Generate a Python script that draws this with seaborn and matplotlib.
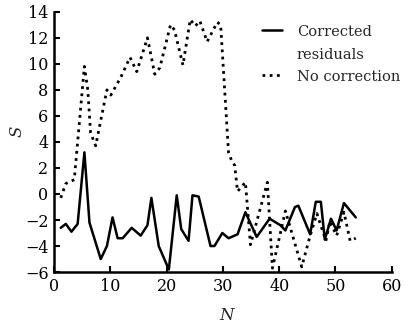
import matplotlib
matplotlib.use("Agg")
import matplotlib.pyplot as plt
import seaborn as sns
import pandas as pd

# Corrected residuals (solid line)
n_corr = [1.2, 2.1, 3.1, 4.2, 5.4, 6.3, 8.3, 9.4, 10.4, 11.3, 12.2, 13.8, 15.4, 16.6,
          17.3, 18.6, 20.4, 21.8, 22.6, 23.9, 24.6, 25.7, 27.8, 28.5, 29.9, 31.0, 32.6,
          34.0, 36.0, 38.3, 40.2, 41.1, 42.8, 43.4, 45.5, 46.5, 47.4, 48.1, 49.2, 50.2,
          51.5, 53.6]
s_corr = [-2.6, -2.3, -2.9, -2.3, 3.2, -2.2, -5.0, -4.0, -1.8, -3.4, -3.4, -2.6, -3.2, -2.4,
          -0.3, -4.0, -5.8, -0.1, -2.7, -3.6, -0.1, -0.2, -4.0, -4.0, -3.0, -3.4, -3.1,
          -1.4, -3.3, -1.9, -2.4, -2.8, -1.0, -0.9, -3.1, -0.6, -0.6, -3.5, -1.9, -2.8,
          -0.7, -1.8]

# No correction (dotted line)
n_raw = [1.2, 2.1, 3.6, 5.4, 6.0, 6.5, 7.4, 9.4, 10.1, 11.9, 13.5, 14.7, 16.6, 17.9, 18.8,
         20.7, 21.4, 22.9, 24.2, 25.1, 25.9, 27.2, 29.0, 29.6, 31.0, 31.6, 32.1, 32.6, 34.0,
         34.9, 37.9, 38.8, 41.1, 44.0, 45.5, 46.7, 48.3, 49.0, 50.2, 51.5, 52.6, 53.6]
s_raw = [-0.3, 0.8, 1.1, 9.8, 8.0, 4.7, 3.7, 8.0, 7.6, 9.0, 10.5, 9.4, 12.0, 9.2, 9.7,
         13.0, 12.6, 9.9, 13.4, 12.9, 13.3, 11.7, 13.2, 13.0, 3.2, 2.5, 2.2, 0.2, 0.9,
         -3.9, 0.9, -5.7, -1.3, -5.6, -3.2, -1.5, -3.6, -2.1, -3.2, -1.4, -3.6, -3.4]

label_corr = "Corrected\nresiduals"
label_raw = "No correction"
x_ticks = [0, 10, 20, 30, 40, 50, 60]
y_ticks = [-6, -4, -2, 0, 2, 4, 6, 8, 10, 12, 14]

sns.set_style("ticks")
plt.rcParams["font.family"] = ["DejaVu Serif"]
plt.rcParams["mathtext.fontset"] = "dejavuserif"

df_c = pd.DataFrame({"N": n_corr, "S": s_corr})
df_r = pd.DataFrame({"N": n_raw, "S": s_raw})

fig = plt.figure(figsize=(4.06, 3.27), dpi=100)
ax = fig.add_axes([0.133, 0.168, 0.832, 0.796])

sns.lineplot(data=df_c, x="N", y="S", ax=ax, color="black", linewidth=1.8,
             label=label_corr, sort=False, estimator=None)
sns.lineplot(data=df_r, x="N", y="S", ax=ax, color="black", linewidth=2.0,
             linestyle=(0, (1, 1.6)), label=label_raw, sort=False, estimator=None)

ax.set_xlim(0, 60)
ax.set_ylim(-6, 14)
ax.set_xticks(x_ticks)
ax.set_yticks(y_ticks)
ax.tick_params(direction="in", length=4, width=1.5, labelsize=11.5, pad=4, colors="black")
for side in ["top", "right"]:
    ax.spines[side].set_visible(False)
for side in ["left", "bottom"]:
    ax.spines[side].set_linewidth(1.8)
    ax.spines[side].set_color("black")

ax.set_xlabel("N", fontsize=12, style="italic")
ax.set_ylabel("S", fontsize=12, style="italic")
ax.xaxis.set_label_coords(0.51, -0.135)
ax.yaxis.set_label_coords(-0.085, 0.54)

leg = ax.legend(loc="upper left", bbox_to_anchor=(262 / 406, 1 - 25 / 327),
                bbox_transform=fig.transFigure, frameon=False, fontsize=10.5,
                handlelength=1.4, handletextpad=1.0, borderpad=0, borderaxespad=0,
                labelspacing=0.55)
for t in leg.get_texts():
    t.set_linespacing(1.8)
# align each legend handle with the first line of its label
for col in leg._legend_handle_box.get_children():
    for row in col.get_children():
        row.align = "top"

fig.savefig("out.png", dpi=100)
